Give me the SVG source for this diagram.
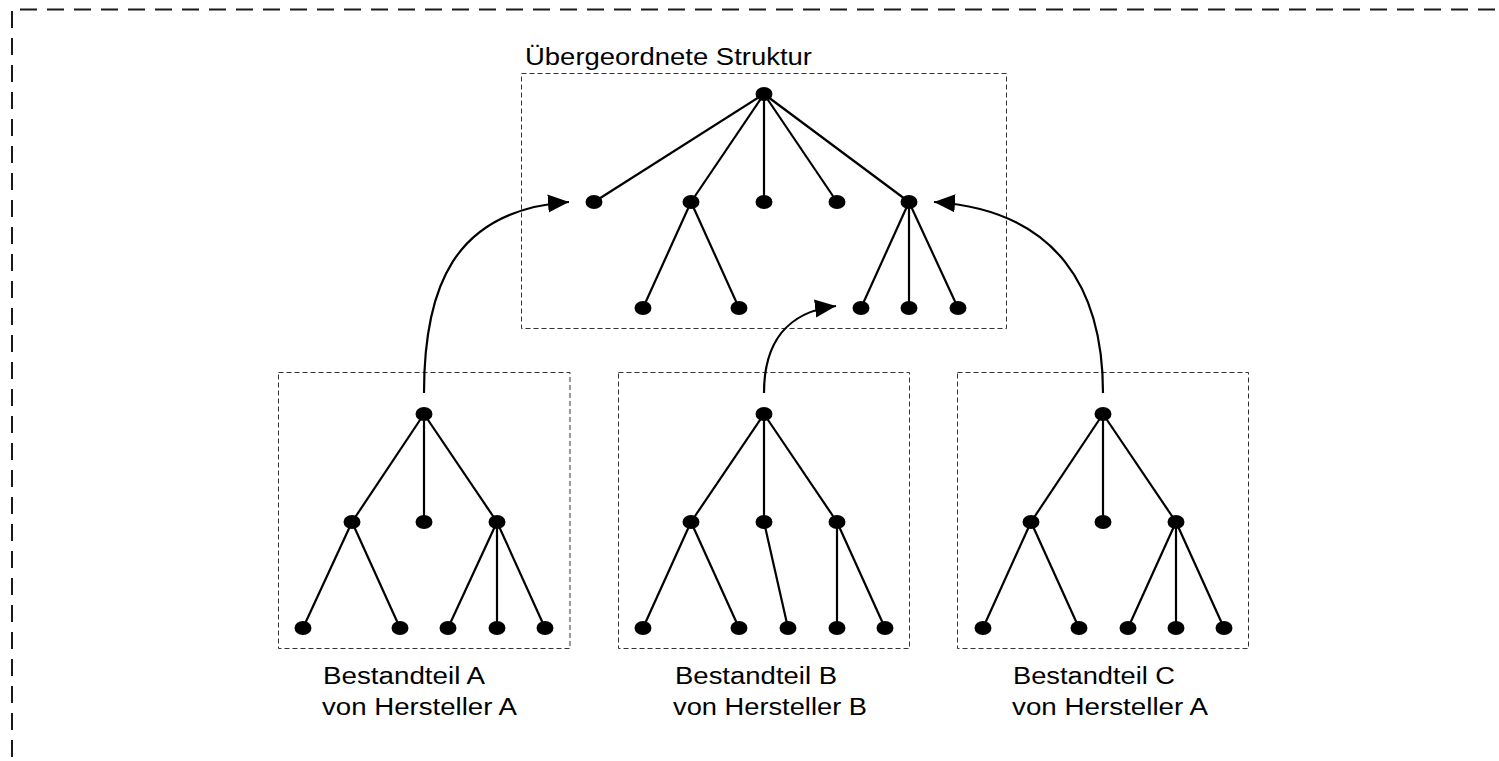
<svg xmlns="http://www.w3.org/2000/svg" width="1499" height="761" viewBox="0 0 1499 761">
  <defs>
    <style>
      .frame { fill: none; stroke: #1a1a1a; stroke-width: 2; stroke-dasharray: 17 10; }
      .box { fill: none; stroke: #333; stroke-width: 1; stroke-dasharray: 5 3; }
      .edge { stroke: #000; stroke-width: 2.2; fill: none; }
      .dot { fill: #000; }
      .link { stroke: #000; stroke-width: 2.2; fill: none; marker-end: url(#arrow); }
      .lbl { font-family: "Liberation Sans", Arial, sans-serif; font-size: 23px; fill: #000; }
    </style>
    <marker id="arrow" markerUnits="userSpaceOnUse" markerWidth="22" markerHeight="19" refX="21" refY="9" orient="auto">
      <path d="M0,0 L21,9 L0,18 Z" fill="#000"/>
    </marker>
  </defs>
  <rect width="1499" height="761" fill="#fff"/>

  <!-- outer frame (open to the right and bottom) -->
  <g id="frame">
    <line class="frame" x1="20" y1="9.5" x2="1499" y2="9.5"/>
    <line class="frame" x1="12" y1="11" x2="12" y2="761"/>
  </g>

  <!-- parent structure -->
  <g id="parent">
    <rect class="box" x="521.5" y="73.5" width="485" height="255"/>
    <text class="lbl" x="525" y="65" textLength="287" lengthAdjust="spacingAndGlyphs">Übergeordnete Struktur</text>
    <g class="edges">
      <line class="edge" x1="764" y1="94" x2="594" y2="202"/>
      <line class="edge" x1="764" y1="94" x2="691" y2="202"/>
      <line class="edge" x1="764" y1="94" x2="764" y2="202"/>
      <line class="edge" x1="764" y1="94" x2="837" y2="202"/>
      <line class="edge" x1="764" y1="94" x2="909" y2="202"/>
      <line class="edge" x1="691" y1="202" x2="643" y2="308"/>
      <line class="edge" x1="691" y1="202" x2="739" y2="308"/>
      <line class="edge" x1="909" y1="202" x2="861" y2="308"/>
      <line class="edge" x1="909" y1="202" x2="909" y2="308"/>
      <line class="edge" x1="909" y1="202" x2="958" y2="308"/>
    </g>
    <g id="p-root"><ellipse class="dot" cx="764" cy="94" rx="8.5" ry="7"/></g>
    <g id="p-a"><ellipse class="dot" cx="594" cy="202" rx="8.5" ry="7"/></g>
    <g id="p-b"><ellipse class="dot" cx="691" cy="202" rx="8.5" ry="7"/></g>
    <g id="p-c"><ellipse class="dot" cx="764" cy="202" rx="8.5" ry="7"/></g>
    <g id="p-d"><ellipse class="dot" cx="837" cy="202" rx="8.5" ry="7"/></g>
    <g id="p-e"><ellipse class="dot" cx="909" cy="202" rx="8.5" ry="7"/></g>
    <g id="p-b1"><ellipse class="dot" cx="643" cy="308" rx="8.5" ry="7"/></g>
    <g id="p-b2"><ellipse class="dot" cx="739" cy="308" rx="8.5" ry="7"/></g>
    <g id="p-e1"><ellipse class="dot" cx="861" cy="308" rx="8.5" ry="7"/></g>
    <g id="p-e2"><ellipse class="dot" cx="909" cy="308" rx="8.5" ry="7"/></g>
    <g id="p-e3"><ellipse class="dot" cx="958" cy="308" rx="8.5" ry="7"/></g>
  </g>

  <!-- component A -->
  <g id="comp-a">
    <rect class="box" x="278.5" y="372.5" width="291.5" height="276"/>
    <text class="lbl" x="323" y="684" textLength="162" lengthAdjust="spacingAndGlyphs">Bestandteil A</text>
    <text class="lbl" x="322" y="715" textLength="195" lengthAdjust="spacingAndGlyphs">von Hersteller A</text>
    <g class="edges">
      <line class="edge" x1="424" y1="414" x2="352" y2="522"/>
      <line class="edge" x1="424" y1="414" x2="424" y2="522"/>
      <line class="edge" x1="424" y1="414" x2="497" y2="522"/>
      <line class="edge" x1="352" y1="522" x2="303" y2="628"/>
      <line class="edge" x1="352" y1="522" x2="400" y2="628"/>
      <line class="edge" x1="497" y1="522" x2="448" y2="628"/>
      <line class="edge" x1="497" y1="522" x2="497" y2="628"/>
      <line class="edge" x1="497" y1="522" x2="545" y2="628"/>
    </g>
    <g id="a-root"><ellipse class="dot" cx="424" cy="414" rx="8.5" ry="7"/></g>
    <g id="a-1"><ellipse class="dot" cx="352" cy="522" rx="8.5" ry="7"/></g>
    <g id="a-2"><ellipse class="dot" cx="424" cy="522" rx="8.5" ry="7"/></g>
    <g id="a-3"><ellipse class="dot" cx="497" cy="522" rx="8.5" ry="7"/></g>
    <g id="a-11"><ellipse class="dot" cx="303" cy="628" rx="8.5" ry="7"/></g>
    <g id="a-12"><ellipse class="dot" cx="400" cy="628" rx="8.5" ry="7"/></g>
    <g id="a-31"><ellipse class="dot" cx="448" cy="628" rx="8.5" ry="7"/></g>
    <g id="a-32"><ellipse class="dot" cx="497" cy="628" rx="8.5" ry="7"/></g>
    <g id="a-33"><ellipse class="dot" cx="545" cy="628" rx="8.5" ry="7"/></g>
  </g>

  <!-- component B -->
  <g id="comp-b">
    <rect class="box" x="618.5" y="372.5" width="291" height="276"/>
    <text class="lbl" x="675" y="684" textLength="162" lengthAdjust="spacingAndGlyphs">Bestandteil B</text>
    <text class="lbl" x="673" y="715" textLength="194" lengthAdjust="spacingAndGlyphs">von Hersteller B</text>
    <g class="edges">
      <line class="edge" x1="764" y1="414" x2="691" y2="522"/>
      <line class="edge" x1="764" y1="414" x2="764" y2="522"/>
      <line class="edge" x1="764" y1="414" x2="837" y2="522"/>
      <line class="edge" x1="691" y1="522" x2="643" y2="628"/>
      <line class="edge" x1="691" y1="522" x2="739" y2="628"/>
      <line class="edge" x1="764" y1="522" x2="788" y2="628"/>
      <line class="edge" x1="837" y1="522" x2="837" y2="628"/>
      <line class="edge" x1="837" y1="522" x2="885" y2="628"/>
    </g>
    <g id="b-root"><ellipse class="dot" cx="764" cy="414" rx="8.5" ry="7"/></g>
    <g id="b-1"><ellipse class="dot" cx="691" cy="522" rx="8.5" ry="7"/></g>
    <g id="b-2"><ellipse class="dot" cx="764" cy="522" rx="8.5" ry="7"/></g>
    <g id="b-3"><ellipse class="dot" cx="837" cy="522" rx="8.5" ry="7"/></g>
    <g id="b-11"><ellipse class="dot" cx="643" cy="628" rx="8.5" ry="7"/></g>
    <g id="b-12"><ellipse class="dot" cx="739" cy="628" rx="8.5" ry="7"/></g>
    <g id="b-21"><ellipse class="dot" cx="788" cy="628" rx="8.5" ry="7"/></g>
    <g id="b-31"><ellipse class="dot" cx="837" cy="628" rx="8.5" ry="7"/></g>
    <g id="b-32"><ellipse class="dot" cx="885" cy="628" rx="8.5" ry="7"/></g>
  </g>

  <!-- component C -->
  <g id="comp-c">
    <rect class="box" x="957.5" y="372.5" width="291" height="276"/>
    <text class="lbl" x="1013" y="684" textLength="162" lengthAdjust="spacingAndGlyphs">Bestandteil C</text>
    <text class="lbl" x="1012" y="715" textLength="196" lengthAdjust="spacingAndGlyphs">von Hersteller A</text>
    <g class="edges">
      <line class="edge" x1="1103" y1="414" x2="1031" y2="522"/>
      <line class="edge" x1="1103" y1="414" x2="1103" y2="522"/>
      <line class="edge" x1="1103" y1="414" x2="1176" y2="522"/>
      <line class="edge" x1="1031" y1="522" x2="983" y2="628"/>
      <line class="edge" x1="1031" y1="522" x2="1079" y2="628"/>
      <line class="edge" x1="1176" y1="522" x2="1128" y2="628"/>
      <line class="edge" x1="1176" y1="522" x2="1176" y2="628"/>
      <line class="edge" x1="1176" y1="522" x2="1224" y2="628"/>
    </g>
    <g id="c-root"><ellipse class="dot" cx="1103" cy="414" rx="8.5" ry="7"/></g>
    <g id="c-1"><ellipse class="dot" cx="1031" cy="522" rx="8.5" ry="7"/></g>
    <g id="c-2"><ellipse class="dot" cx="1103" cy="522" rx="8.5" ry="7"/></g>
    <g id="c-3"><ellipse class="dot" cx="1176" cy="522" rx="8.5" ry="7"/></g>
    <g id="c-11"><ellipse class="dot" cx="983" cy="628" rx="8.5" ry="7"/></g>
    <g id="c-12"><ellipse class="dot" cx="1079" cy="628" rx="8.5" ry="7"/></g>
    <g id="c-31"><ellipse class="dot" cx="1128" cy="628" rx="8.5" ry="7"/></g>
    <g id="c-32"><ellipse class="dot" cx="1176" cy="628" rx="8.5" ry="7"/></g>
    <g id="c-33"><ellipse class="dot" cx="1224" cy="628" rx="8.5" ry="7"/></g>
  </g>

  <!-- connectors: each component is inserted into the parent structure -->
  <g id="connectors">
    <path class="link" d="M424,393 C424,290 452,210 569,202"/>
    <path class="link" d="M764,393 C764,345 785,312 836,306"/>
    <path class="link" d="M1103,393 C1103,290 1058,210 934,202"/>
  </g>
</svg>
